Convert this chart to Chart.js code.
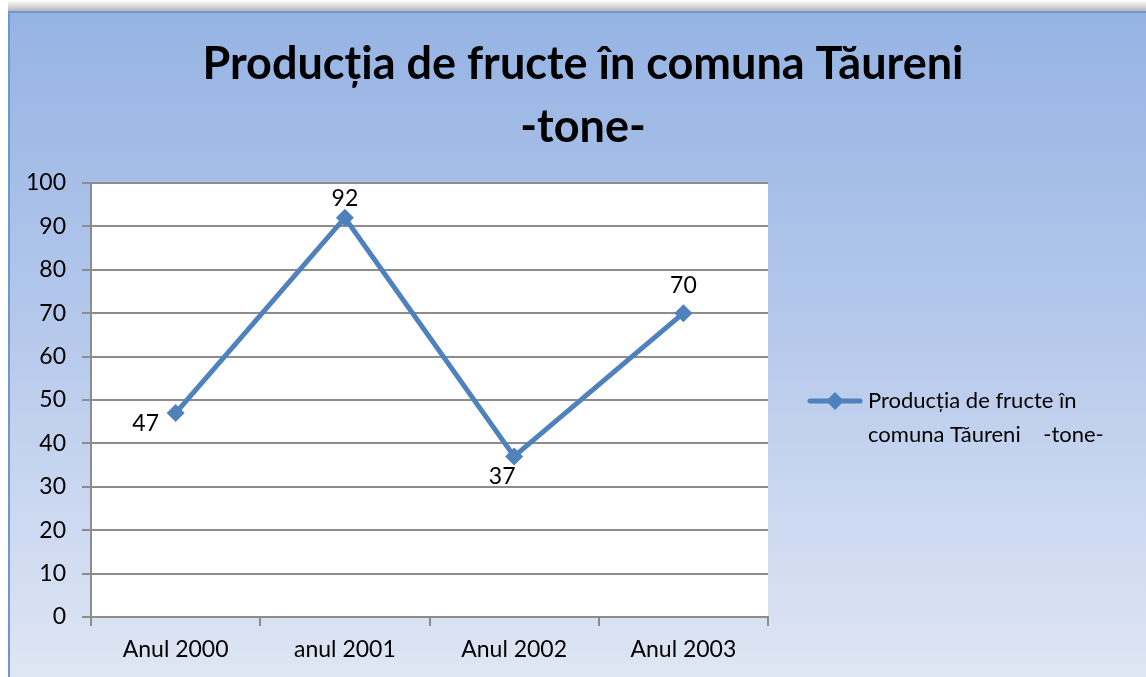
<!DOCTYPE html>
<html>
<head>
<meta charset="utf-8">
<title>Producția de fructe</title>
<script src="https://cdn.jsdelivr.net/npm/chart.js@4/dist/chart.umd.min.js"></script>
<style>
  html, body { margin: 0; padding: 0; background: #fff; }
  canvas { display: block; }
</style>
</head>
<body>
<canvas id="chart" width="1146" height="677"></canvas>
<script>
const years = ['Anul 2000', 'anul 2001', 'Anul 2002', 'Anul 2003'];
const production = [47, 92, 37, 70];
const labelSides = ['left', 'top', 'bottom', 'top'];
const titleLines = ['Producția de fructe în comuna Tăureni', '-tone-'];
const seriesName = ['Producția de fructe în', 'comuna Tăureni    -tone-'];

const FONT = 'Lato, "Open Sans", sans-serif';
const BLUE = '#4F81BD';

// frame, gradient fill and white plot area
const background = {
  id: 'background',
  beforeDraw(chart) {
    const { ctx, width, height, chartArea } = chart;
    ctx.save();
    ctx.fillStyle = '#fff';
    ctx.fillRect(0, 0, width, height);

    const shadow = ctx.createLinearGradient(0, 0, 0, 11);
    shadow.addColorStop(0, '#ffffff');
    shadow.addColorStop(1, '#b9b9b9');
    ctx.fillStyle = shadow;
    ctx.fillRect(8, 0, width - 8, 11);

    const g = ctx.createLinearGradient(0, 11, 0, height);
    g.addColorStop(0, '#95b3e3');
    g.addColorStop(0.45, '#b3c7eb');
    g.addColorStop(1, '#dfe6f4');
    ctx.fillStyle = g;
    ctx.fillRect(8, 11, width - 8, height - 11);

    ctx.strokeStyle = '#6f95d2';
    ctx.lineWidth = 2;
    ctx.beginPath();
    ctx.moveTo(9, height);
    ctx.lineTo(9, 12);
    ctx.lineTo(width, 12);
    ctx.stroke();

    ctx.fillStyle = '#fff';
    ctx.fillRect(chartArea.left, chartArea.top, chartArea.right - chartArea.left, chartArea.bottom - chartArea.top);
    ctx.restore();
  }
};

// two line title above the plot
const heading = {
  id: 'heading',
  afterDraw(chart) {
    const { ctx } = chart;
    ctx.save();
    ctx.fillStyle = '#000';
    ctx.font = 'bold 45px ' + FONT;
    ctx.textAlign = 'center';
    ctx.textBaseline = 'middle';
    ctx.fillText(titleLines[0], 583, 64);
    ctx.fillText(titleLines[1], 583, 127);
    ctx.restore();
  }
};

// value labels next to each point, kept inside the plot area
const valueLabels = {
  id: 'valueLabels',
  afterDatasetsDraw(chart) {
    const { ctx, chartArea } = chart;
    const meta = chart.getDatasetMeta(0);
    ctx.save();
    ctx.fillStyle = '#000';
    ctx.font = '23px ' + FONT;
    ctx.textAlign = 'center';
    ctx.textBaseline = 'middle';
    meta.data.forEach((pt, i) => {
      const v = chart.data.datasets[0].data[i];
      let x = pt.x, y = pt.y;
      if (labelSides[i] === 'left') { x -= 30; y += 11; }
      else if (labelSides[i] === 'top') { y = Math.max(y - 28, chartArea.top + 16); }
      else { x -= 12; y += 20; }
      ctx.fillText(String(v), x, y);
    });
    ctx.restore();
  }
};

// legend on the right, with a line and diamond marker
const sideLegend = {
  id: 'sideLegend',
  afterDraw(chart) {
    const { ctx } = chart;
    const ds = chart.data.datasets[0];
    ctx.save();
    ctx.strokeStyle = ds.borderColor;
    ctx.lineWidth = 5;
    ctx.lineCap = 'round';
    ctx.beginPath();
    ctx.moveTo(810, 401);
    ctx.lineTo(860, 401);
    ctx.stroke();
    ctx.fillStyle = ds.borderColor;
    ctx.beginPath();
    ctx.moveTo(835 - 9, 401);
    ctx.lineTo(835, 401 - 9);
    ctx.lineTo(835 + 9, 401);
    ctx.lineTo(835, 401 + 9);
    ctx.closePath();
    ctx.fill();

    ctx.fillStyle = '#000';
    ctx.font = '22px ' + FONT;
    ctx.textAlign = 'left';
    ctx.textBaseline = 'middle';
    ctx.fillText(seriesName[0], 868, 401);
    ctx.fillText(seriesName[1], 868, 435);
    ctx.restore();
  }
};

new Chart(document.getElementById('chart'), {
  type: 'line',
  data: {
    labels: years,
    datasets: [{
      label: seriesName.join(' '),
      data: production,
      borderColor: BLUE,
      backgroundColor: BLUE,
      borderWidth: 5,
      tension: 0,
      pointStyle: 'rectRot',
      pointRadius: 9,
      pointHoverRadius: 9,
      pointBorderWidth: 0,
      borderJoinStyle: 'miter'
    }]
  },
  options: {
    responsive: false,
    animation: false,
    events: [],
    layout: { padding: { left: 0, top: 183, right: 378, bottom: 0 } },
    plugins: {
      legend: { display: false },
      title: { display: false },
      tooltip: { enabled: false }
    },
    scales: {
      x: {
        offset: true,
        grid: {
          offset: true,
          drawOnChartArea: false,
          drawTicks: true,
          tickLength: 9,
          color: '#8c8c8c',
          lineWidth: 2
        },
        border: { color: '#8c8c8c', width: 2 },
        ticks: { color: '#000', font: { family: FONT, size: 23 }, padding: 10 },
        afterFit(scale) { scale.height = 60; }
      },
      y: {
        min: 0,
        max: 100,
        ticks: { stepSize: 10, color: '#000', font: { family: FONT, size: 23 }, padding: 16 },
        grid: { color: '#8c8c8c', lineWidth: 2, tickLength: 9 },
        border: { color: '#8c8c8c', width: 2 },
        afterFit(scale) { scale.width = 91; }
      }
    }
  },
  plugins: [background, heading, valueLabels, sideLegend]
});
</script>
</body>
</html>
